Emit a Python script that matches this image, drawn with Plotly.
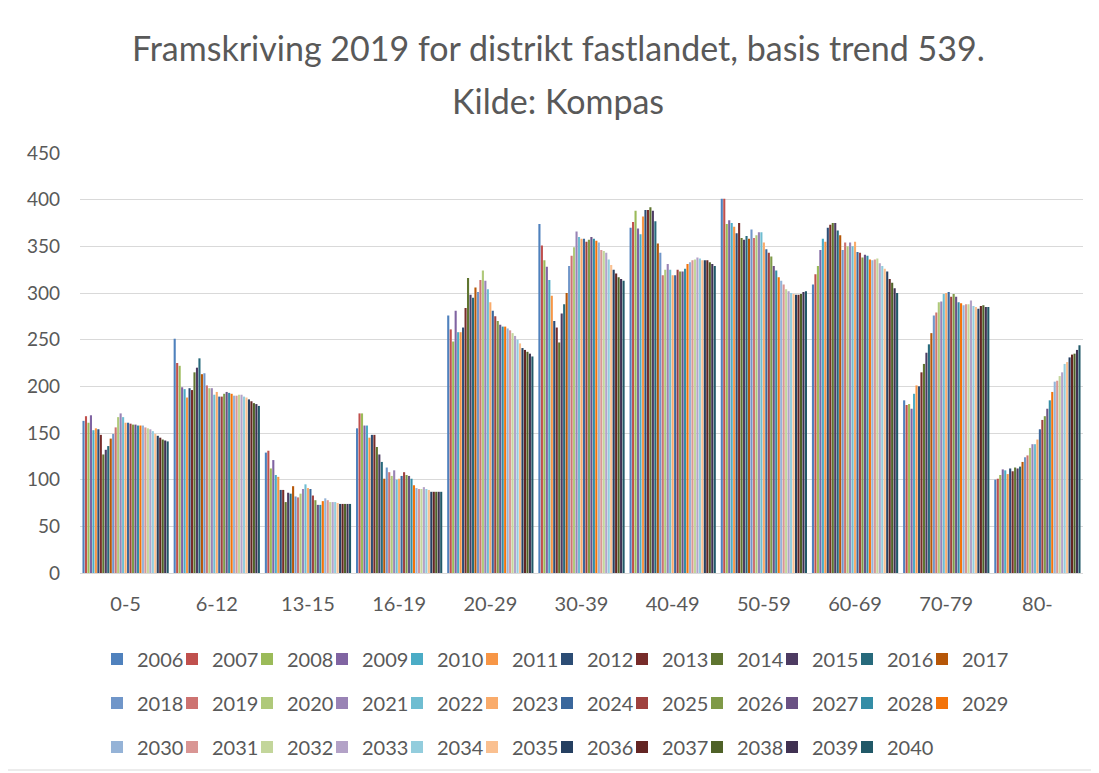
import plotly.graph_objects as go

categories = ["0-5", "6-12", "13-15", "16-19", "20-29", "30-39", "40-49", "50-59", "60-69", "70-79", "80-"]
years = list(range(2006, 2041))

# values per age group, one value per year 2006..2040
v_0_5 = [163, 168, 161, 169, 153, 155, 154, 148, 127, 132, 136, 144, 149, 156, 167, 171, 167, 161,
         161, 160, 159, 159, 158, 158, 158, 156, 155, 154, 152, 149, 147, 145, 143, 142, 141]
v_6_12 = [251, 225, 222, 199, 197, 188, 198, 196, 215, 220, 230, 213, 214, 201, 198, 198, 191, 194,
          189, 189, 192, 194, 193, 192, 190, 190, 191, 191, 189, 188, 186, 184, 182, 181, 179]
v_13_15 = [129, 131, 112, 121, 105, 103, 89, 89, 76, 86, 85, 93, 82, 81, 85, 90, 95, 91,
           90, 83, 78, 73, 73, 77, 80, 78, 76, 76, 76, 75, 74, 74, 74, 74, 74]
v_16_19 = [155, 171, 171, 158, 158, 145, 148, 148, 135, 127, 119, 101, 113, 108, 104, 110, 100, 101,
           104, 108, 105, 104, 101, 94, 91, 90, 90, 92, 90, 89, 87, 87, 87, 87, 87]
v_20_29 = [276, 261, 248, 281, 258, 258, 263, 284, 316, 298, 295, 306, 301, 314, 324, 313, 304, 290,
           281, 275, 270, 266, 264, 264, 262, 260, 257, 254, 250, 246, 241, 239, 237, 235, 232]
v_30_39 = [374, 351, 335, 328, 314, 297, 270, 263, 247, 278, 288, 300, 329, 340, 349, 366, 360, 358,
           358, 355, 357, 360, 358, 356, 354, 346, 345, 343, 336, 330, 325, 321, 317, 315, 313]
v_40_49 = [370, 376, 388, 369, 363, 382, 389, 389, 392, 388, 377, 353, 343, 319, 325, 331, 325, 319,
           319, 325, 323, 323, 326, 331, 333, 335, 336, 338, 337, 335, 335, 335, 333, 331, 329]
v_50_59 = [401, 401, 374, 378, 375, 371, 364, 375, 359, 357, 361, 358, 368, 359, 362, 365, 365, 354,
           347, 343, 339, 329, 324, 317, 313, 309, 304, 302, 300, 299, 298, 298, 299, 301, 302]
v_60_69 = [309, 320, 329, 346, 358, 355, 370, 373, 375, 375, 367, 362, 346, 354, 350, 354, 350, 355,
           344, 343, 338, 341, 340, 336, 335, 336, 337, 332, 329, 326, 323, 315, 311, 305, 300]
v_70_79 = [185, 180, 181, 176, 192, 201, 200, 215, 224, 236, 245, 257, 276, 279, 290, 291, 299, 300,
           301, 296, 299, 296, 290, 289, 287, 288, 288, 292, 286, 285, 283, 286, 287, 285, 285]
v_80 = [100, 101, 105, 111, 110, 106, 112, 109, 113, 112, 114, 119, 124, 126, 134, 138, 138, 143,
        154, 164, 168, 176, 185, 194, 205, 206, 211, 215, 224, 226, 231, 234, 235, 239, 244]

groups = [v_0_5, v_6_12, v_13_15, v_16_19, v_20_29, v_30_39, v_40_49, v_50_59, v_60_69, v_70_79, v_80]

colors = [
    "#4F81BD", "#C0504D", "#9BBB59", "#8064A2", "#4BACC6", "#F79646",
    "#2C4D75", "#772C2A", "#5F7530", "#4D3B62", "#276A7C", "#B65708",
    "#7096C9", "#CD7371", "#AFC97A", "#9983B5", "#6FBDD1", "#F9AB6B",
    "#3A679C", "#9F413E", "#7F9A48", "#6A5284", "#348DA6", "#F3730A",
    "#95B3D7", "#D99694", "#C3D69B", "#B3A2C7", "#93CDDD", "#FAC090",
    "#254061", "#632523", "#4F6228", "#403152", "#215968",
]

FONT = "Lato"
TXT = "#595959"

# page offset caused by the default body margin
OFF = 8
W, H = 1099 - OFF, 773 - OFF
# plot area in page pixels
PL, PR, PT, PB = 80, 1083, 153, 573
ML, MR, MT, MB = PL - OFF, W - (PR - OFF), PT - OFF, H - (PB - OFF)
pw = W - ML - MR
ph = H - MT - MB


def px_x(x):
    return (x - PL) / pw


def px_y(y):
    return (PB - y) / ph


fig = go.Figure()
for i, yr in enumerate(years):
    leg = "legend" if i < 12 else ("legend2" if i < 24 else "legend3")
    last_in_row = i in (11, 23, 34)
    fig.add_trace(go.Bar(
        x=categories,
        y=[g[i] for g in groups],
        name=str(yr),
        marker=dict(color=colors[i], line=dict(width=0)),
        legend=leg,
        legendwidth=55 if last_in_row else None,
    ))

legend_common = dict(
    orientation="h", font=dict(family=FONT, size=20, color=TXT),
    entrywidth=30, entrywidthmode="pixels", xanchor="left", yanchor="middle",
    bgcolor="rgba(0,0,0,0)", traceorder="normal", itemclick=False,
)

fig.update_layout(
    width=W, height=H,
    margin=dict(l=ML, r=MR, t=MT, b=MB, autoexpand=False),
    paper_bgcolor="white", plot_bgcolor="white",
    barmode="group", bargap=0.05, bargroupgap=0.15,
    font=dict(family=FONT, color=TXT),
    showlegend=True,
    legend=dict(x=px_x(97), y=px_y(659), **legend_common),
    legend2=dict(x=px_x(97), y=px_y(703), **legend_common),
    legend3=dict(x=px_x(97), y=px_y(747), **legend_common),
    xaxis=dict(
        showgrid=False, showline=True, linecolor="#D9D9D9", linewidth=1,
        ticks="", tickfont=dict(family=FONT, size=20, color=TXT),
        ticklabelstandoff=13,
    ),
    yaxis=dict(
        range=[0, 450], dtick=50, showgrid=True, gridcolor="#D9D9D9", gridwidth=1,
        zeroline=False, showline=False, ticks="",
        tickfont=dict(family=FONT, size=19, color=TXT), ticklabelstandoff=19,
    ),
    annotations=[
        dict(text="Framskriving 2019 for distrikt fastlandet, basis trend 539.",
             xref="paper", yref="paper", x=px_x(558), y=px_y(47),
             xanchor="center", yanchor="middle", showarrow=False,
             font=dict(family=FONT, size=34, color=TXT)),
        dict(text="Kilde: Kompas",
             xref="paper", yref="paper", x=px_x(558), y=px_y(100),
             xanchor="center", yanchor="middle", showarrow=False,
             font=dict(family=FONT, size=34, color=TXT)),
    ],
    shapes=[
        dict(type="line", xref="paper", yref="paper",
             x0=px_x(OFF), x1=px_x(1097), y0=px_y(770), y1=px_y(770),
             line=dict(color="#D9D9D9", width=1), layer="below"),
    ],
)

fig.write_html("out.html")
